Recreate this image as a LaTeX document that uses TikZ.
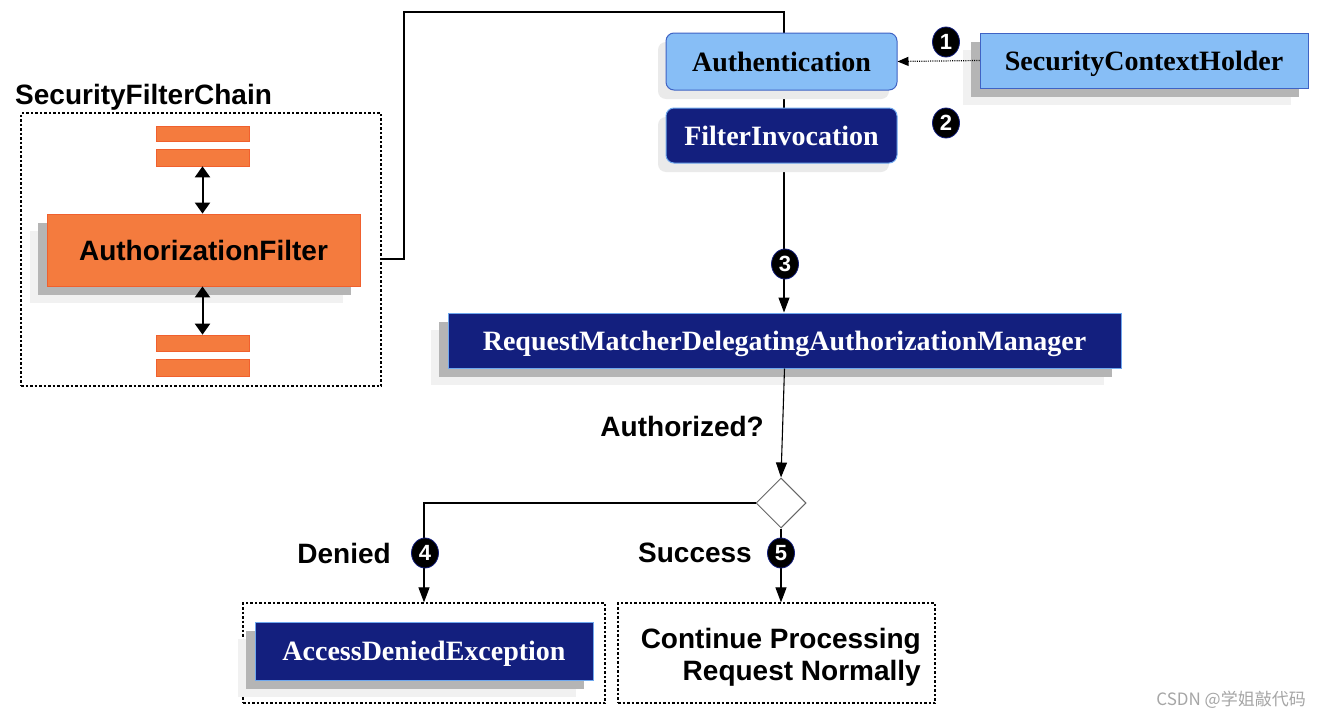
\documentclass[tikz,border=0pt]{standalone}
\usepackage{fontspec}
\setmainfont{Liberation Serif}
\newfontfamily\lsans{Liberation Sans}
\newfontfamily\cjk{Noto Sans CJK SC}
\usetikzlibrary{arrows.meta,shapes.geometric,shadows,backgrounds}
\definecolor{lblue}{HTML}{87BEF6}
\definecolor{lblueborder}{HTML}{3F63C4}
\definecolor{navy}{HTML}{131F7E}
\definecolor{navyborder}{HTML}{6FA8EE}
\definecolor{orangebox}{HTML}{F47B3E}
\definecolor{orangeborder}{HTML}{F0602E}
\definecolor{shadowdark}{HTML}{B5B5B5}
\definecolor{shadowlight}{HTML}{F1F1F1}
\definecolor{shadowpale}{HTML}{EAEAEA}
\tikzset{
  serifbox/.style={font=\fontsize{28}{30}\selectfont\bfseries, inner sep=0pt, align=center,
                   text height=22pt, text depth=3pt},
  lightbox/.style={serifbox, fill=lblue, draw=lblueborder, line width=1pt, text=black},
  navybox/.style={serifbox, fill=navy, draw=navyborder, line width=1pt, text=white},
  paleshadow/.style={drop shadow={shadow xshift=-8pt, shadow yshift=-9pt, fill=shadowpale, opacity=1}},
  deepshadow/.style={drop shadow={shadow xshift=-17pt, shadow yshift=-17pt, fill=shadowlight, opacity=1},
                     drop shadow={shadow xshift=-9pt, shadow yshift=-9pt, fill=shadowdark, opacity=1}},
  dotbox/.style={draw=black, dash pattern=on 2.5pt off 2pt, line width=1.2pt, inner sep=0pt},
  bar/.style={fill=orangebox, draw=orangeborder, line width=0.6pt, inner sep=0pt, minimum width=93pt},
  label/.style={font=\lsans\fontsize{28}{30}\selectfont\bfseries, inner sep=0pt},
  conn/.style={draw=black, line width=1.1pt},
  arr/.style={conn, -{Triangle[length=15pt,width=11pt]}},
  darr/.style={draw=black, line width=2pt, {Triangle[length=11pt,width=15pt]}-{Triangle[length=11pt,width=15pt]}},
  badge/.style={ellipse, fill=black, draw=navy, line width=0.8pt, minimum width=27pt, minimum height=30pt, inner sep=0pt,
                text=white, font=\lsans\fontsize{22}{22}\selectfont\bfseries},
}
\begin{document}
\begin{tikzpicture}[x=1pt,y=-1pt]
\useasboundingbox (0,0) rectangle (1320,720);

% Security filter chain
\node[label, anchor=west] (chainlabel) at (15,97) {SecurityFilterChain};
\node[dotbox, minimum width=360pt, minimum height=273pt] (chain) at (201,249.5) {};
\node[bar, minimum height=15pt] (bar1) at (202.5,133.5) {};
\node[bar, minimum height=17pt] (bar2) at (202.5,157.5) {};
\node[bar, minimum height=16pt] (bar3) at (202.5,343) {};
\node[bar, minimum height=17pt] (bar4) at (202.5,367.5) {};
\node[deepshadow, fill=orangebox, draw=orangeborder, line width=0.8pt, inner sep=0pt,
      minimum width=313pt, minimum height=72pt, font=\lsans\fontsize{28}{30}\selectfont\bfseries]
      (af) at (203.5,250) {AuthorizationFilter};
\draw[darr] (bar2.south) -- (af.north -| bar2.south);
\draw[darr] (af.south -| bar3.north) -- (bar3.north);

% Top right
\node[lightbox, paleshadow, rounded corners=8pt, minimum width=231pt, minimum height=57pt]
      (auth) at (781.5,61.5) {Authentication};
\node[navybox, paleshadow, rounded corners=8pt, minimum width=231pt, minimum height=55pt]
      (fi) at (781.5,135.5) {FilterInvocation};
\node[lightbox, deepshadow, minimum width=328pt, minimum height=55pt]
      (sch) at (1144,60.5) {SecurityContextHolder};
\draw[line width=1.2pt, dash pattern=on 1pt off 1.2pt, -{Triangle[length=11pt,width=9pt]}]
      (sch.west) -- (auth.east);
\node[badge] (b1) at (946,42) {1};
\node[badge] (b2) at (946,123) {2};

% Manager
\node[navybox, deepshadow, minimum width=673pt, minimum height=55pt]
      (rm) at (784.5,340.5) {RequestMatcherDelegatingAuthorizationManager};

% main line behind top boxes
\coordinate (cout) at (381,259);
\coordinate (c1) at (404,12);
\coordinate (c2) at (784,12);
\begin{scope}[on background layer]
\fill[white] (0,0) rectangle (1320,720);
\draw[arr] (cout) -| (c1) -- (c2) -- (c2 |- rm.north);
\end{scope}
\node[badge] (b3) at (785,264) {3};

% Decision
\node[diamond, draw=black!60, fill=white, line width=1pt, minimum width=50pt, minimum height=50pt, inner sep=0pt]
      (dec) at (781,503) {};
\draw[arr] (rm.south) -- (dec.north);
\node[label, anchor=east] (authq) at (764,426) {Authorized?};

% Outcomes
\node[dotbox, minimum width=362pt, minimum height=100pt] (denbox) at (424,653) {};
\node[navybox, deepshadow, minimum width=338pt, minimum height=58pt] (ade) at (424,651) {AccessDeniedException};
\node[dotbox, minimum width=317pt, minimum height=100pt] (contbox) at (776.5,653) {};
\node[label, align=right, anchor=east, font=\lsans\fontsize{28}{32}\selectfont\bfseries]
      (cont) at (921,657) {Continue Processing\\Request Normally};

\draw[arr] (dec.west) -| (denbox.north);
\draw[arr] (dec.south) -- (dec.south |- contbox.north);
\node[badge] (b4) at (425,553) {4};
\node[badge] (b5) at (781,553) {5};
\node[label, anchor=east] (denied) at (391,553) {Denied};
\node[label, anchor=east] (success) at (752,553) {Success};

% watermark
\node[anchor=east, inner sep=0pt, text=black!35, font=\cjk\fontsize{17}{17}\selectfont] (wm) at (1306,700) {CSDN @学姐敲代码};
\end{tikzpicture}
\end{document}
